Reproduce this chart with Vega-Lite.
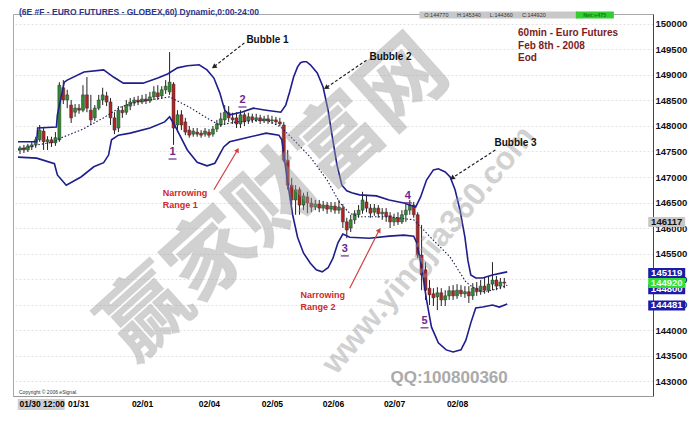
{
"$schema": "https://vega.github.io/schema/vega-lite/v6.json",
"width": 640, "height": 382,
"autosize": {"type": "none"},
"padding": {"left": 13, "top": 14, "right": 45, "bottom": 30},
"background": "white",
"config": {"view": {"stroke": "#a8a8a8", "strokeWidth": 1}, "text": {"font": "Liberation Sans"},
 "axisY": {"orient": "right", "title": null,
  "format": "d", "grid": true, "gridColor": "#e2e2e2", "gridDash": [2, 2], "ticks": false, "domainColor": "#444444", "labelFont": "Liberation Sans", "labelFontSize": 9.5, "labelFontWeight": "bold", "labelColor": "#111111", "labelPadding": 2, "labelOverlap": false, "labelFlush": false}},
"datasets": {
"candles": [
{"i":0,"o":147530,"h":147610,"l":147450,"c":147570},
{"i":1,"o":147570,"h":147630,"l":147470,"c":147530},
{"i":2,"o":147530,"h":147650,"l":147490,"c":147610},
{"i":3,"o":147590,"h":147690,"l":147530,"c":147630},
{"i":4,"o":147630,"h":147790,"l":147570,"c":147730},
{"i":5,"o":147730,"h":148020,"l":147690,"c":147920},
{"i":6,"o":147900,"h":147960,"l":147530,"c":147690},
{"i":7,"o":147690,"h":147800,"l":147530,"c":147730},
{"i":8,"o":147730,"h":147790,"l":147590,"c":147670},
{"i":9,"o":147670,"h":147880,"l":147610,"c":147770},
{"i":10,"o":147730,"h":148860,"l":147690,"c":148800},
{"i":11,"o":148750,"h":148900,"l":148430,"c":148510},
{"i":12,"o":148510,"h":148710,"l":148350,"c":148610},
{"i":13,"o":148410,"h":148510,"l":148060,"c":148160},
{"i":14,"o":148270,"h":148430,"l":148180,"c":148350},
{"i":15,"o":148350,"h":148430,"l":148240,"c":148310},
{"i":16,"o":148310,"h":148800,"l":148270,"c":148610},
{"i":17,"o":148610,"h":148960,"l":148270,"c":148350},
{"i":18,"o":148310,"h":148610,"l":148020,"c":148120},
{"i":19,"o":148160,"h":148410,"l":148100,"c":148350},
{"i":20,"o":148350,"h":148610,"l":148310,"c":148510},
{"i":21,"o":148510,"h":148750,"l":148410,"c":148610},
{"i":22,"o":148590,"h":148670,"l":148390,"c":148470},
{"i":23,"o":148470,"h":148550,"l":148020,"c":148160},
{"i":24,"o":148160,"h":148270,"l":147840,"c":147920},
{"i":25,"o":147960,"h":148390,"l":147880,"c":148310},
{"i":26,"o":148310,"h":148390,"l":148160,"c":148260},
{"i":27,"o":148270,"h":148510,"l":148220,"c":148410},
{"i":28,"o":148390,"h":148550,"l":148310,"c":148470},
{"i":29,"o":148450,"h":148570,"l":148390,"c":148510},
{"i":30,"o":148510,"h":148590,"l":148410,"c":148470},
{"i":31,"o":148470,"h":148610,"l":148430,"c":148530},
{"i":32,"o":148530,"h":148630,"l":148430,"c":148490},
{"i":33,"o":148490,"h":148670,"l":148450,"c":148570},
{"i":34,"o":148570,"h":148780,"l":148510,"c":148670},
{"i":35,"o":148650,"h":148800,"l":148510,"c":148570},
{"i":36,"o":148590,"h":148780,"l":148530,"c":148710},
{"i":37,"o":148710,"h":148900,"l":148630,"c":148780},
{"i":38,"o":148670,"h":149450,"l":148610,"c":148860},
{"i":39,"o":148820,"h":148860,"l":147630,"c":147960},
{"i":40,"o":148020,"h":148310,"l":147880,"c":148220},
{"i":41,"o":148220,"h":148310,"l":147920,"c":148020},
{"i":42,"o":148080,"h":148160,"l":147820,"c":147880},
{"i":43,"o":147920,"h":148000,"l":147770,"c":147820},
{"i":44,"o":147840,"h":147960,"l":147790,"c":147900},
{"i":45,"o":147880,"h":147960,"l":147790,"c":147840},
{"i":46,"o":147860,"h":147920,"l":147770,"c":147820},
{"i":47,"o":147840,"h":147960,"l":147790,"c":147900},
{"i":48,"o":147880,"h":147940,"l":147770,"c":147820},
{"i":49,"o":147840,"h":148000,"l":147790,"c":147940},
{"i":50,"o":147940,"h":148120,"l":147880,"c":148040},
{"i":51,"o":148020,"h":148260,"l":147980,"c":148140},
{"i":52,"o":148120,"h":148410,"l":148020,"c":148270},
{"i":53,"o":148260,"h":148390,"l":148080,"c":148160},
{"i":54,"o":148160,"h":148260,"l":148040,"c":148120},
{"i":55,"o":148160,"h":148270,"l":147960,"c":148040},
{"i":56,"o":148040,"h":148310,"l":147960,"c":148220},
{"i":57,"o":148220,"h":148270,"l":148000,"c":148080},
{"i":58,"o":148100,"h":148260,"l":148040,"c":148180},
{"i":59,"o":148180,"h":148240,"l":148060,"c":148120},
{"i":60,"o":148120,"h":148240,"l":148080,"c":148160},
{"i":61,"o":148160,"h":148220,"l":148040,"c":148100},
{"i":62,"o":148100,"h":148200,"l":148060,"c":148140},
{"i":63,"o":148140,"h":148220,"l":148040,"c":148100},
{"i":64,"o":148100,"h":148200,"l":148040,"c":148120},
{"i":65,"o":148120,"h":148180,"l":148020,"c":148080},
{"i":66,"o":148080,"h":148160,"l":148000,"c":148040},
{"i":67,"o":148020,"h":148080,"l":147290,"c":147330},
{"i":68,"o":147330,"h":147530,"l":146750,"c":146840},
{"i":69,"o":146840,"h":146980,"l":146450,"c":146550},
{"i":70,"o":146550,"h":146840,"l":146260,"c":146750},
{"i":71,"o":146750,"h":146800,"l":146260,"c":146450},
{"i":72,"o":146450,"h":146690,"l":146350,"c":146630},
{"i":73,"o":146610,"h":146710,"l":146290,"c":146490},
{"i":74,"o":146490,"h":146590,"l":146310,"c":146410},
{"i":75,"o":146410,"h":146550,"l":146350,"c":146470},
{"i":76,"o":146470,"h":146550,"l":146310,"c":146390},
{"i":77,"o":146390,"h":146530,"l":146330,"c":146450},
{"i":78,"o":146450,"h":146510,"l":146280,"c":146370},
{"i":79,"o":146370,"h":146510,"l":146310,"c":146430},
{"i":80,"o":146430,"h":146510,"l":146280,"c":146350},
{"i":81,"o":146350,"h":146550,"l":146280,"c":146410},
{"i":82,"o":146390,"h":146470,"l":146000,"c":146120},
{"i":83,"o":146120,"h":146200,"l":145800,"c":145960},
{"i":84,"o":146000,"h":146260,"l":145920,"c":146160},
{"i":85,"o":146160,"h":146350,"l":146080,"c":146280},
{"i":86,"o":146260,"h":146450,"l":146200,"c":146350},
{"i":87,"o":146350,"h":146710,"l":146280,"c":146550},
{"i":88,"o":146510,"h":146650,"l":146310,"c":146390},
{"i":89,"o":146390,"h":146470,"l":146200,"c":146290},
{"i":90,"o":146310,"h":146470,"l":146240,"c":146390},
{"i":91,"o":146390,"h":146450,"l":146200,"c":146280},
{"i":92,"o":146280,"h":146390,"l":146160,"c":146310},
{"i":93,"o":146310,"h":146390,"l":146120,"c":146220},
{"i":94,"o":146240,"h":146310,"l":146000,"c":146120},
{"i":95,"o":146120,"h":146280,"l":146040,"c":146200},
{"i":96,"o":146200,"h":146310,"l":146060,"c":146120},
{"i":97,"o":146120,"h":146350,"l":146080,"c":146260},
{"i":98,"o":146260,"h":146490,"l":146120,"c":146350},
{"i":99,"o":146350,"h":146550,"l":146260,"c":146450},
{"i":100,"o":146450,"h":146510,"l":146200,"c":146260},
{"i":101,"o":146260,"h":146310,"l":145410,"c":145470},
{"i":102,"o":145470,"h":146060,"l":144780,"c":145080},
{"i":103,"o":145180,"h":145330,"l":144590,"c":144780},
{"i":104,"o":144820,"h":144980,"l":144490,"c":144690},
{"i":105,"o":144710,"h":144820,"l":144470,"c":144630},
{"i":106,"o":144650,"h":144840,"l":144390,"c":144730},
{"i":107,"o":144730,"h":144820,"l":144470,"c":144590},
{"i":108,"o":144590,"h":144780,"l":144470,"c":144670},
{"i":109,"o":144670,"h":144860,"l":144590,"c":144770},
{"i":110,"o":144770,"h":144880,"l":144590,"c":144670},
{"i":111,"o":144670,"h":144900,"l":144610,"c":144780},
{"i":112,"o":144780,"h":144880,"l":144650,"c":144710},
{"i":113,"o":144710,"h":144860,"l":144630,"c":144750},
{"i":114,"o":144750,"h":144860,"l":144530,"c":144670},
{"i":115,"o":144670,"h":144920,"l":144590,"c":144820},
{"i":116,"o":144820,"h":144940,"l":144670,"c":144750},
{"i":117,"o":144750,"h":144980,"l":144690,"c":144860},
{"i":118,"o":144860,"h":145020,"l":144710,"c":144780},
{"i":119,"o":144780,"h":145060,"l":144730,"c":144900},
{"i":120,"o":144900,"h":145330,"l":144780,"c":144980},
{"i":121,"o":144980,"h":145060,"l":144780,"c":144860},
{"i":122,"o":144860,"h":145020,"l":144800,"c":144940},
{"i":123,"o":144940,"h":145020,"l":144820,"c":144920}
],
"upper": [
{"i":-0.5,"p":147690},{"i":4.25,"p":147690},{"i":4.5,"p":147960},{"i":9.25,"p":147980},{"i":9.5,"p":148220},{"i":11.25,"p":148860},{"i":12,"p":148900},{"i":16.25,"p":149060},{"i":21.25,"p":149100},{"i":23.75,"p":148960},{"i":26.25,"p":148840},{"i":31.25,"p":148840},{"i":35,"p":148940},{"i":37.5,"p":149020},{"i":40,"p":149140},{"i":42.5,"p":149180},{"i":45.5,"p":149200},{"i":47.5,"p":149100},{"i":49.25,"p":148940},{"i":50.75,"p":148650},{"i":52,"p":148310},{"i":53.25,"p":148220},{"i":56.25,"p":148270},{"i":59.25,"p":148350},{"i":62.5,"p":148310},{"i":66.25,"p":148270},{"i":67.5,"p":148410},{"i":68.5,"p":148670},{"i":69.5,"p":148960},{"i":70.5,"p":149160},{"i":71.25,"p":149240},{"i":72,"p":149260},{"i":72.75,"p":149260},{"i":73.75,"p":149200},{"i":75.5,"p":149040},{"i":77,"p":148760},{"i":78.25,"p":148310},{"i":79.25,"p":147820},{"i":80.5,"p":147240},{"i":81.75,"p":146840},{"i":83,"p":146730},{"i":84.25,"p":146690},{"i":86.25,"p":146650},{"i":90.5,"p":146630},{"i":93.75,"p":146550},{"i":97.5,"p":146490},{"i":100.5,"p":146410},{"i":101.75,"p":146610},{"i":103.25,"p":146940},{"i":105,"p":147140},{"i":106.25,"p":147160},{"i":108,"p":147100},{"i":109.25,"p":147000},{"i":110.5,"p":146750},{"i":111.75,"p":146350},{"i":113,"p":145820},{"i":113.75,"p":145370},{"i":114.5,"p":145080},{"i":115.75,"p":145020},{"i":117.5,"p":145020},{"i":120,"p":145080},{"i":122.5,"p":145120},{"i":123.75,"p":145140}
],
"lower": [
{"i":-0.5,"p":147390},{"i":4.25,"p":147370},{"i":8.75,"p":147260},{"i":9.5,"p":147040},{"i":11.75,"p":146840},{"i":15.5,"p":147000},{"i":18.75,"p":147200},{"i":21.25,"p":147280},{"i":22.5,"p":147430},{"i":23.25,"p":147730},{"i":25,"p":147820},{"i":28,"p":147860},{"i":33,"p":147960},{"i":36.75,"p":148080},{"i":38,"p":148180},{"i":39.25,"p":148020},{"i":42.5,"p":147530},{"i":45,"p":147290},{"i":47.5,"p":147220},{"i":49.5,"p":147270},{"i":51.75,"p":147590},{"i":53.25,"p":147690},{"i":57.5,"p":147770},{"i":62.5,"p":147860},{"i":65.75,"p":147820},{"i":66.5,"p":147730},{"i":68,"p":146880},{"i":69.25,"p":146260},{"i":70.5,"p":145820},{"i":72,"p":145510},{"i":73.75,"p":145310},{"i":75.25,"p":145180},{"i":76.75,"p":145140},{"i":78.25,"p":145220},{"i":79.5,"p":145410},{"i":80.75,"p":145710},{"i":82,"p":145880},{"i":83.75,"p":145820},{"i":88.75,"p":145800},{"i":93.75,"p":145840},{"i":97.5,"p":145860},{"i":100,"p":145840},{"i":100.75,"p":145710},{"i":102,"p":145240},{"i":103.25,"p":144590},{"i":104.5,"p":144060},{"i":106.25,"p":143750},{"i":108.25,"p":143610},{"i":110,"p":143570},{"i":112,"p":143610},{"i":113.25,"p":143800},{"i":114.5,"p":144140},{"i":115.75,"p":144430},{"i":117.5,"p":144450},{"i":120,"p":144490},{"i":121.75,"p":144450},{"i":123.75,"p":144510}
],
"mid": [
{"i":-0.5,"p":147530},{"i":4.5,"p":147630},{"i":8.75,"p":147690},{"i":10.5,"p":147770},{"i":15.5,"p":147920},{"i":21.25,"p":148160},{"i":25.5,"p":148370},{"i":29.5,"p":148470},{"i":36.25,"p":148550},{"i":38,"p":148570},{"i":43,"p":148370},{"i":48.25,"p":148120},{"i":50.75,"p":148020},{"i":55,"p":148080},{"i":62.5,"p":148120},{"i":66.25,"p":147980},{"i":69.5,"p":147730},{"i":73.75,"p":147390},{"i":78,"p":146940},{"i":81.25,"p":146490},{"i":83.75,"p":146290},{"i":86.25,"p":146220},{"i":93.75,"p":146220},{"i":100,"p":146160},{"i":101.75,"p":146020},{"i":105,"p":145760},{"i":109.25,"p":145430},{"i":113.25,"p":144940},{"i":115,"p":144840},{"i":117.5,"p":144750},{"i":120,"p":144780},{"i":122.5,"p":144840},{"i":123.75,"p":144880}
],
"arrowsBlack": [
{"i":57,"p":149630,"i2":49.25,"p2":149160},
{"i":88,"p":149290,"i2":77.75,"p2":148750},
{"i":120.75,"p":147530,"i2":109.75,"p2":146980}
],
"headsBlack": [{"i":49.25,"p":149160},{"i":77.75,"p":148750},{"i":109.75,"p":146980}],
"arrowsRed": [
{"i":49.25,"p":146750,"i2":55.25,"p2":147530},
{"i":83.75,"p":144820,"i2":91.25,"p2":145960}
],
"headsRed": [{"i":55.25,"p":147530},{"i":91.25,"p":145960}]
},
"encoding": {
"x": {"field": "i", "type": "quantitative", "scale": {"domain": [-0.5, 159.5], "nice": false, "zero": false},
 "axis": {"orient": "bottom", "title": null, "values": [5.5, 14.75, 31, 48, 64, 79.5, 95, 111],
  "labelExpr": "datum.value < 10 ? '01/30 12:00' : datum.value < 20 ? '01/31' : datum.value < 40 ? '02/01' : datum.value < 55 ? '02/04' : datum.value < 70 ? '02/05' : datum.value < 85 ? '02/06' : datum.value < 100 ? '02/07' : '02/08'",
  "grid": false, "ticks": false, "domainColor": "#999999", "labelFont": "Liberation Sans", "labelFontSize": 8.5, "labelFontWeight": "bold", "labelColor": "#000000", "labelPadding": 3, "labelFlush": false, "labelOverlap": false, "zindex": 1}},
"y": {"field": "p", "type": "quantitative", "scale": {"domain": [142706, 150196], "nice": false, "zero": false},
 "axis": {"orient": "right", "values": [143000,143500,144000,144500,145000,145500,146000,146500,147000,147500,148000,148500,149000,149500,150000]}}
},
"layer": [
{"data": {"name": "candles"}, "mark": {"type": "rule", "color": "#222222", "strokeWidth": 1},
 "encoding": {"y": {"field": "l", "type": "quantitative", "scale": {"domain": [142706, 150196], "nice": false, "zero": false},
  "axis": {"orient": "right", "values": [143000,143500,144000,144500,145000,145500,146000,146500,147000,147500,148000,148500,149000,149500,150000]}}, "y2": {"field": "h"}}},
{"data": {"name": "candles"}, "mark": {"type": "bar", "width": 3, "stroke": "#333333", "strokeWidth": 0.5},
 "encoding": {"y": {"field": "o", "type": "quantitative", "scale": {"domain": [142706, 150196], "nice": false, "zero": false},
  "axis": {"orient": "right", "values": [143000,143500,144000,144500,145000,145500,146000,146500,147000,147500,148000,148500,149000,149500,150000]}}, "y2": {"field": "c"},
  "color": {"condition": {"test": "datum.c >= datum.o", "value": "#2e8b2e"}, "value": "#b22222"}}},
{"data": {"name": "upper"}, "mark": {"type": "line", "color": "#1e1e8c", "strokeWidth": 1.6}},
{"data": {"name": "lower"}, "mark": {"type": "line", "color": "#1e1e8c", "strokeWidth": 1.6}},
{"data": {"name": "mid"}, "mark": {"type": "line", "color": "#1a1a55", "strokeWidth": 1.1, "strokeDash": [1.5, 2]}},
{"data": {"values": [{"i": 65, "p": 146550, "t": "赢家财富网"}]},
 "mark": {"type": "text", "font": "Noto Sans CJK SC", "fontWeight": "bold", "fontSize": 86, "angle": -42, "align": "center", "baseline": "middle", "color": "#9a9a9a", "opacity": 0.45, "stroke": "#888888", "strokeWidth": 1, "strokeOpacity": 0.5},
 "encoding": {"text": {"field": "t"}}},
{"data": {"values": [{"i": 103.75, "p": 145570, "t": "www.yingjia360.com"}]},
 "mark": {"type": "text", "font": "Liberation Sans", "fontWeight": "bold", "fontSize": 32, "angle": -50, "align": "center", "baseline": "middle", "color": "#9a9a9a", "opacity": 0.45},
 "encoding": {"text": {"field": "t"}}},
{"data": {"values": [{"i": 109, "p": 143060, "t": "QQ:100800360"}]},
 "mark": {"type": "text", "font": "Liberation Sans", "fontWeight": "bold", "fontSize": 17, "align": "center", "baseline": "middle", "color": "#aaaaaa"},
 "encoding": {"text": {"field": "t"}}},
{"data": {"name": "arrowsBlack"}, "mark": {"type": "rule", "color": "#222222", "strokeWidth": 1.2, "strokeDash": [3, 2]},
 "encoding": {"x2": {"field": "i2"}, "y2": {"field": "p2"}}},
{"data": {"name": "headsBlack"}, "mark": {"type": "point", "shape": "triangle-up", "filled": true, "size": 30, "opacity": 1, "color": "#222222", "angle": 235}},
{"data": {"name": "arrowsRed"}, "mark": {"type": "rule", "color": "#d04040", "strokeWidth": 1.2},
 "encoding": {"x2": {"field": "i2"}, "y2": {"field": "p2"}}},
{"data": {"name": "headsRed"}, "mark": {"type": "point", "shape": "triangle-up", "filled": true, "size": 30, "opacity": 1, "color": "#d04040", "angle": 28}},
{"data": {"values": [{"i": 57.5, "p": 149690, "t": "Bubble 1"}, {"i": 88.75, "p": 149350, "t": "Bubble 2"}, {"i": 120.5, "p": 147670, "t": "Bubble 3"}]},
 "mark": {"type": "text", "fontWeight": "bold", "fontSize": 10, "align": "left", "baseline": "middle", "color": "#111111"},
 "encoding": {"text": {"field": "t"}}},
{"data": {"values": [{"i": 126.5, "p": 149824, "t": "60min - Euro Futures"}, {"i": 126.5, "p": 149569, "t": "Feb 8th - 2008"}, {"i": 126.5, "p": 149334, "t": "Eod"}]},
 "mark": {"type": "text", "fontWeight": "bold", "fontSize": 10, "align": "left", "baseline": "middle", "color": "#7b1c1c"},
 "encoding": {"text": {"field": "t"}}},
{"data": {"values": [{"i": 36.25, "p": 146687, "t": "Narrowing"}, {"i": 36.25, "p": 146451, "t": "Range 1"}, {"i": 71.25, "p": 144687, "t": "Narrowing"}, {"i": 71.25, "p": 144451, "t": "Range 2"}]},
 "mark": {"type": "text", "fontWeight": "bold", "fontSize": 9, "align": "left", "baseline": "middle", "color": "#d02828"},
 "encoding": {"text": {"field": "t"}}},
{"data": {"values": [{"i": 38.75, "p": 147490, "t": "1"}, {"i": 56.5, "p": 148510, "t": "2"}, {"i": 82.5, "p": 145590, "t": "3"}, {"i": 98.5, "p": 146630, "t": "4"}, {"i": 102.75, "p": 144180, "t": "5"}]},
 "mark": {"type": "text", "fontWeight": "bold", "fontSize": 11, "align": "center", "baseline": "middle", "color": "#6a2a8a"},
 "encoding": {"text": {"field": "t"}}},
{"data": {"values": [{"i": 38.75, "p": 147490}, {"i": 56.5, "p": 148510}, {"i": 82.5, "p": 145590}, {"i": 98.5, "p": 146630}, {"i": 102.75, "p": 144180}]},
 "mark": {"type": "point", "shape": "M-1,1.75H1", "filled": false, "size": 64, "strokeWidth": 1.2, "opacity": 1, "color": "#6a2a8a"}},
{"data": {"values": [{"i": 164.25, "p": 145119}, {"i": 164.25, "p": 144800}, {"i": 164.25, "p": 144481}]},
 "mark": {"type": "point", "shape": "M-1,-0.27H1V0.27H-1Z", "filled": true, "size": 1369, "opacity": 1, "strokeWidth": 0, "color": "#1c1ca8"}},
{"data": {"values": [{"i": 164.25, "p": 145119, "t": "145119"}, {"i": 164.25, "p": 144800, "t": "144800"}, {"i": 164.25, "p": 144481, "t": "144481"}]},
 "mark": {"type": "text", "fontWeight": "bold", "fontSize": 9.5, "align": "center", "baseline": "middle", "color": "#ffffff"},
 "encoding": {"text": {"field": "t"}}},
{"data": {"values": [{"i": 164.25, "p": 146117}]},
 "mark": {"type": "point", "shape": "M-1,-0.27H1V0.27H-1Z", "filled": true, "size": 1369, "opacity": 1, "strokeWidth": 0, "color": "#c8c8c8"}},
{"data": {"values": [{"i": 164.25, "p": 146117, "t": "146117"}]},
 "mark": {"type": "text", "fontWeight": "bold", "fontSize": 9.5, "align": "center", "baseline": "middle", "color": "#111111"},
 "encoding": {"text": {"field": "t"}}},
{"data": {"values": [{"i": 164.25, "p": 144920}]},
 "mark": {"type": "point", "shape": "M-1,-0.27H1V0.27H-1Z", "filled": true, "size": 1369, "opacity": 1, "strokeWidth": 0, "color": "#33dd33"}},
{"data": {"values": [{"i": 164.25, "p": 144920, "t": "144920"}]},
 "mark": {"type": "text", "fontWeight": "bold", "fontSize": 9.5, "align": "center", "baseline": "middle", "color": "#eaffea"},
 "encoding": {"text": {"field": "t"}}},
{"data": {"values": [{"i": 121.5, "p": 150177}]},
 "mark": {"type": "point", "shape": "M-1,-0.0443H1V0.0443H-1Z", "filled": true, "size": 24964, "opacity": 1, "strokeWidth": 0, "color": "#c8c8c8"}},
{"data": {"values": [{"i": 146, "p": 150177}]},
 "mark": {"type": "point", "shape": "M-1,-0.184H1V0.184H-1Z", "filled": true, "size": 1444, "opacity": 1, "strokeWidth": 0, "color": "#33cc33"}},
{"data": {"values": [{"i": 105.75, "p": 150177, "t": "O:144770"}, {"i": 114, "p": 150177, "t": "H:145340"}, {"i": 122.25, "p": 150177, "t": "L:144360"}, {"i": 130.5, "p": 150177, "t": "C:144920"}]},
 "mark": {"type": "text", "fontSize": 5.5, "align": "center", "baseline": "middle", "color": "#333333"},
 "encoding": {"text": {"field": "t"}}},
{"data": {"values": [{"i": 146, "p": 150177, "t": "Net:+475"}]},
 "mark": {"type": "text", "fontSize": 5.5, "fontWeight": "bold", "align": "center", "baseline": "middle", "color": "#137a13"},
 "encoding": {"text": {"field": "t"}}},
{"data": {"values": [{"i": -0.25, "p": 150240, "t": "(6E #F - EURO FUTURES - GLOBEX,60) Dynamic,0:00-24:00"}]},
 "mark": {"type": "text", "fontSize": 8.5, "fontWeight": "bold", "align": "left", "baseline": "middle", "color": "#2a3590"},
 "encoding": {"text": {"field": "t"}}},
{"data": {"values": [{"i": -0.25, "p": 142785, "t": "Copyright © 2006 eSignal."}]},
 "mark": {"type": "text", "fontSize": 5, "align": "left", "baseline": "middle", "color": "#333333"},
 "encoding": {"text": {"field": "t"}}},
{"data": {"values": [{"i": 5.4, "p": 142540}]},
 "mark": {"type": "point", "shape": "M-1,-0.234H1V0.234H-1Z", "filled": true, "size": 2209, "opacity": 1, "strokeWidth": 0, "color": "#cfcfcf"}}
]
}
